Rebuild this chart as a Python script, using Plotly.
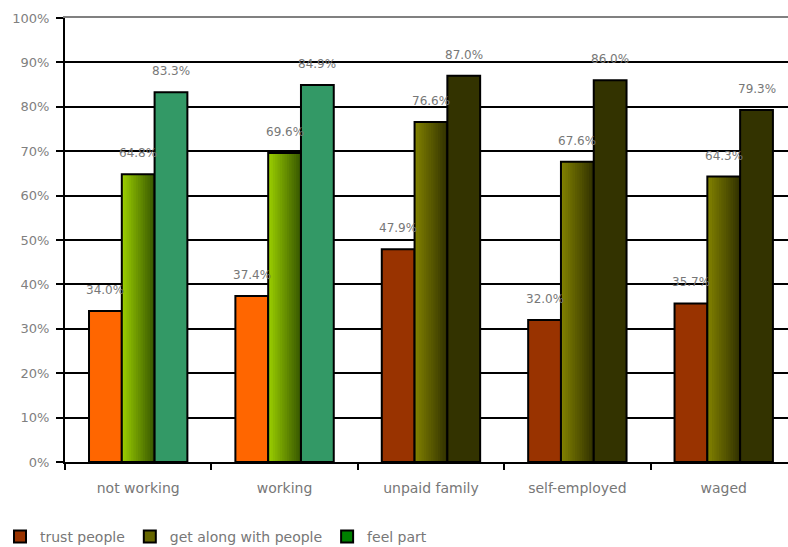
import plotly.graph_objects as go

# ---- data -------------------------------------------------------------
categories = ["not working", "working", "unpaid family", "self-employed", "waged"]
trust_people = [34.0, 37.4, 47.9, 32.0, 35.7]
get_along = [64.8, 69.6, 76.6, 67.6, 64.3]
feel_part = [83.3, 84.9, 87.0, 86.0, 79.3]
series_names = ["trust people", "get along with people", "feel part"]
y_ticks = [0, 10, 20, 30, 40, 50, 60, 70, 80, 90, 100]
y_tick_text = [f"{v}%" for v in y_ticks]

# ---- styling ------------------------------------------------------------
FONT = "DejaVu Sans"
TEXT_GREY = "#777777"
BAR_W = 0.224
OFFSETS = [-1.5 * BAR_W, -0.5 * BAR_W, 0.5 * BAR_W]

# the first two groups use a bright palette, the others an earthy one
trust_colors = ["#FF6600", "#FF6600", "#993300", "#993300", "#993300"]
feel_colors = ["#339966", "#339966", "#333300", "#333300", "#333300"]
grad_bright = ((0x99, 0xCC, 0x00), (0x3A, 0x5A, 0x00))
grad_earthy = ((0x80, 0x80, 0x00), (0x33, 0x33, 0x00))
grad_per_cat = [grad_bright, grad_bright, grad_earthy, grad_earthy, grad_earthy]
N_STRIPS = 14


def mix(c0, c1, t):
    r, g, b = (round(a + (b_ - a) * t) for a, b_ in zip(c0, c1))
    return f"rgb({r},{g},{b})"


fig = go.Figure()

# trust people
fig.add_trace(go.Bar(
    x=categories, y=trust_people, width=BAR_W, offset=OFFSETS[0],
    marker=dict(color=trust_colors, line=dict(color="black", width=2)),
    showlegend=False, hoverinfo="skip",
))

# get along with people: horizontal gradient built from overlapping strips
strip_w = BAR_W / N_STRIPS
for i in range(N_STRIPS):
    t = i / (N_STRIPS - 1)
    start = OFFSETS[1] + i * strip_w
    w = min(2.5 * strip_w, OFFSETS[1] + BAR_W - start)
    fig.add_trace(go.Bar(
        x=categories, y=get_along, width=w, offset=start,
        marker=dict(color=[mix(g[0], g[1], t) for g in grad_per_cat], line=dict(width=0)),
        showlegend=False, hoverinfo="skip",
    ))
# outline of the gradient bars
fig.add_trace(go.Bar(
    x=categories, y=get_along, width=BAR_W, offset=OFFSETS[1],
    marker=dict(color="rgba(0,0,0,0)", line=dict(color="black", width=2)),
    showlegend=False, hoverinfo="skip",
))

# feel part
fig.add_trace(go.Bar(
    x=categories, y=feel_part, width=BAR_W, offset=OFFSETS[2],
    marker=dict(color=feel_colors, line=dict(color="black", width=2)),
    showlegend=False, hoverinfo="skip",
))

# legend entries
legend_colors = ["#993300", "#666600", "#008000"]
for name, col in zip(series_names, legend_colors):
    fig.add_trace(go.Bar(
        x=[categories[0]], y=[None], name=name, xaxis="x2",
        marker=dict(color=col, line=dict(color="black", width=2)),
    ))

# value labels above each bar
for values, off in zip([trust_people, get_along, feel_part], OFFSETS):
    for ci, v in enumerate(values):
        fig.add_annotation(
            x=ci + off + BAR_W / 2, y=v, xref="x", yref="y",
            text=f"{v:.1f}%", showarrow=False, yshift=21, yanchor="middle",
            font=dict(family=FONT, size=12, color=TEXT_GREY),
        )

x_range = [-0.5, 4.439]
fig.update_layout(
    width=788, height=547,
    margin=dict(l=65, r=0, t=18, b=85, autoexpand=False),
    paper_bgcolor="white", plot_bgcolor="white",
    barmode="overlay",
    font=dict(family=FONT, color=TEXT_GREY),
    xaxis=dict(
        type="category", categoryorder="array", categoryarray=categories,
        range=x_range, tickson="boundaries", ticks="outside", ticklen=6,
        tickwidth=2, tickcolor="black", showline=True, linecolor="black",
        linewidth=2, mirror=True, showgrid=False, zeroline=False,
        ticklabelstandoff=12,
        tickfont=dict(family=FONT, size=14, color=TEXT_GREY),
    ),
    xaxis2=dict(
        type="category", overlaying="x", side="top", matches="x",
        showline=True, linecolor="#808080", linewidth=2, ticks="",
        showticklabels=False, showgrid=False, zeroline=False,
    ),
    yaxis=dict(
        range=[0, 100], tickvals=y_ticks, ticktext=y_tick_text, ticks="outside",
        ticklen=7, tickwidth=2, tickcolor="black", showline=True,
        linecolor="black", linewidth=2, showgrid=True, gridcolor="black",
        gridwidth=2, zeroline=False, ticklabelstandoff=4,
        tickfont=dict(family=FONT, size=13, color="#808080"),
    ),
    legend=dict(
        orientation="h", xref="container", yref="container",
        x=0, xanchor="left", y=10 / 547, yanchor="middle",
        font=dict(family=FONT, size=14, color=TEXT_GREY),
        bgcolor="rgba(0,0,0,0)", itemclick=False,
    ),
    showlegend=True,
)

fig.write_html("out.html")
